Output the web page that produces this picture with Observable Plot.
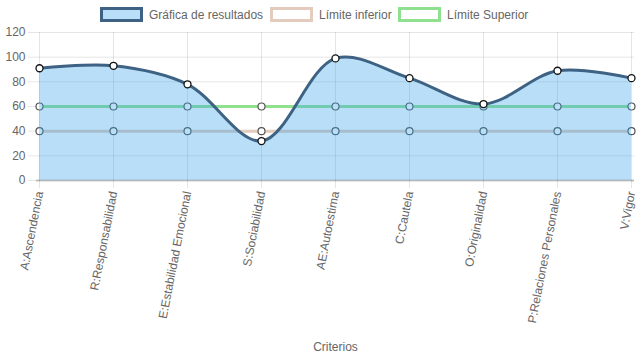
<!DOCTYPE html>
<html>
<head>
<meta charset="utf-8">
<script src="https://cdn.jsdelivr.net/npm/d3@7"></script>
<script src="https://cdn.jsdelivr.net/npm/@observablehq/plot@0.6"></script>
<style>
  html, body { margin: 0; padding: 0; background: #fff; }
  #wrap { position: relative; width: 637px; height: 359px; font-family: "Liberation Sans", Arial, Helvetica, sans-serif; }
  #legend { position: absolute; top: 7px; left: 0; width: 637px; height: 16px; }
  .item { position: absolute; top: 0; display: flex; align-items: center; font-size: 12px; color: #666; white-space: nowrap; }
  .box { width: 37px; height: 9px; margin-right: 6px; box-sizing: content-box; }
</style>
</head>
<body>
<div id="wrap">
  <div id="chart"></div>
  <div id="legend"></div>
</div>
<script>
const categories = ["A:Ascendencia","R:Responsabilidad","E:Estabilidad Emocional","S:Sociabilidad","AE:Autoestima","C:Cautela","O:Originalidad","P:Relaciones Personales","V:Vigor"];
const resultados = [91, 93, 78, 32, 99, 83, 62, 89, 83];
const limiteInferior = [40, 40, 40, 40, 40, 40, 40, 40, 40];
const limiteSuperior = [60, 60, 60, 60, 60, 60, 60, 60, 60];
const yTicks = [0, 20, 40, 60, 80, 100, 120];
const seriesNames = ["Gráfica de resultados", "Límite inferior", "Límite Superior"];
const xTitle = "Criterios";

const colRes = "#3e6283";
const colFill = "rgba(54,162,235,0.35)";
const colInf = "#e3cbbd";
const colSup = "#8fe08f";

const res = categories.map((c, i) => ({c, v: resultados[i]}));
const inf = categories.map((c, i) => ({c, v: limiteInferior[i]}));
const sup = categories.map((c, i) => ({c, v: limiteSuperior[i]}));

const chart = Plot.plot({
  width: 637,
  height: 359,
  marginLeft: 36,
  marginRight: 3,
  marginTop: 32,
  marginBottom: 179,
  style: {fontFamily: "'Liberation Sans', Arial, Helvetica, sans-serif", fontSize: "12px", color: "#666", background: "#fff"},
  x: {type: "point", domain: categories, padding: 0, label: null},
  y: {domain: [0, 120], ticks: yTicks, label: null},
  marks: [
    Plot.gridX(categories, {stroke: "#000", strokeOpacity: 0.1, strokeWidth: 1}),
    Plot.gridY(yTicks, {stroke: "#000", strokeOpacity: 0.1, strokeWidth: 1}),
    Plot.ruleY([0], {stroke: "#000", strokeOpacity: 0.2, strokeWidth: 2}),
    Plot.line(sup, {x: "c", y: "v", stroke: colSup, strokeWidth: 3}),
    Plot.line(inf, {x: "c", y: "v", stroke: colInf, strokeWidth: 3}),
    Plot.dot(sup, {x: "c", y: "v", r: 3.5, fill: "#fff", stroke: "#555", strokeWidth: 1.2}),
    Plot.dot(inf, {x: "c", y: "v", r: 3.5, fill: "#fff", stroke: "#555", strokeWidth: 1.2}),
    Plot.areaY(res, {x: "c", y: "v", y1: 0, fill: colFill, curve: "catmull-rom"}),
    Plot.line(res, {x: "c", y: "v", stroke: colRes, strokeWidth: 3, curve: "catmull-rom"}),
    Plot.dot(res, {x: "c", y: "v", r: 3.5, fill: "#fff", stroke: "#111", strokeWidth: 1.3}),
    Plot.axisY({ticks: yTicks, tickSize: 8, tickPadding: 3, stroke: "#000", strokeOpacity: 0.1, fill: "#666", fontSize: 12, label: null}),
    Plot.axisX({tickSize: 8, tickPadding: 3, tickRotate: -79, stroke: "#000", strokeOpacity: 0.1, fill: "#666", fontSize: 12, label: null}),
    Plot.text([xTitle], {frameAnchor: "bottom", dy: 170, fill: "#666", fontSize: 12})
  ]
});
document.getElementById("chart").appendChild(chart);

// legend
const legend = document.getElementById("legend");
const items = [
  {name: seriesNames[0], fill: "rgba(54,162,235,0.35)", stroke: colRes, left: 100},
  {name: seriesNames[1], fill: "#fff", stroke: colInf, left: 270},
  {name: seriesNames[2], fill: "#fff", stroke: colSup, left: 398}
];
for (const it of items) {
  const d = document.createElement("div");
  d.className = "item";
  d.style.left = it.left + "px";
  const b = document.createElement("div");
  b.className = "box";
  b.style.background = it.fill;
  b.style.border = "3px solid " + it.stroke;
  d.appendChild(b);
  const t = document.createElement("span");
  t.textContent = it.name;
  d.appendChild(t);
  legend.appendChild(d);
}
</script>
</body>
</html>
